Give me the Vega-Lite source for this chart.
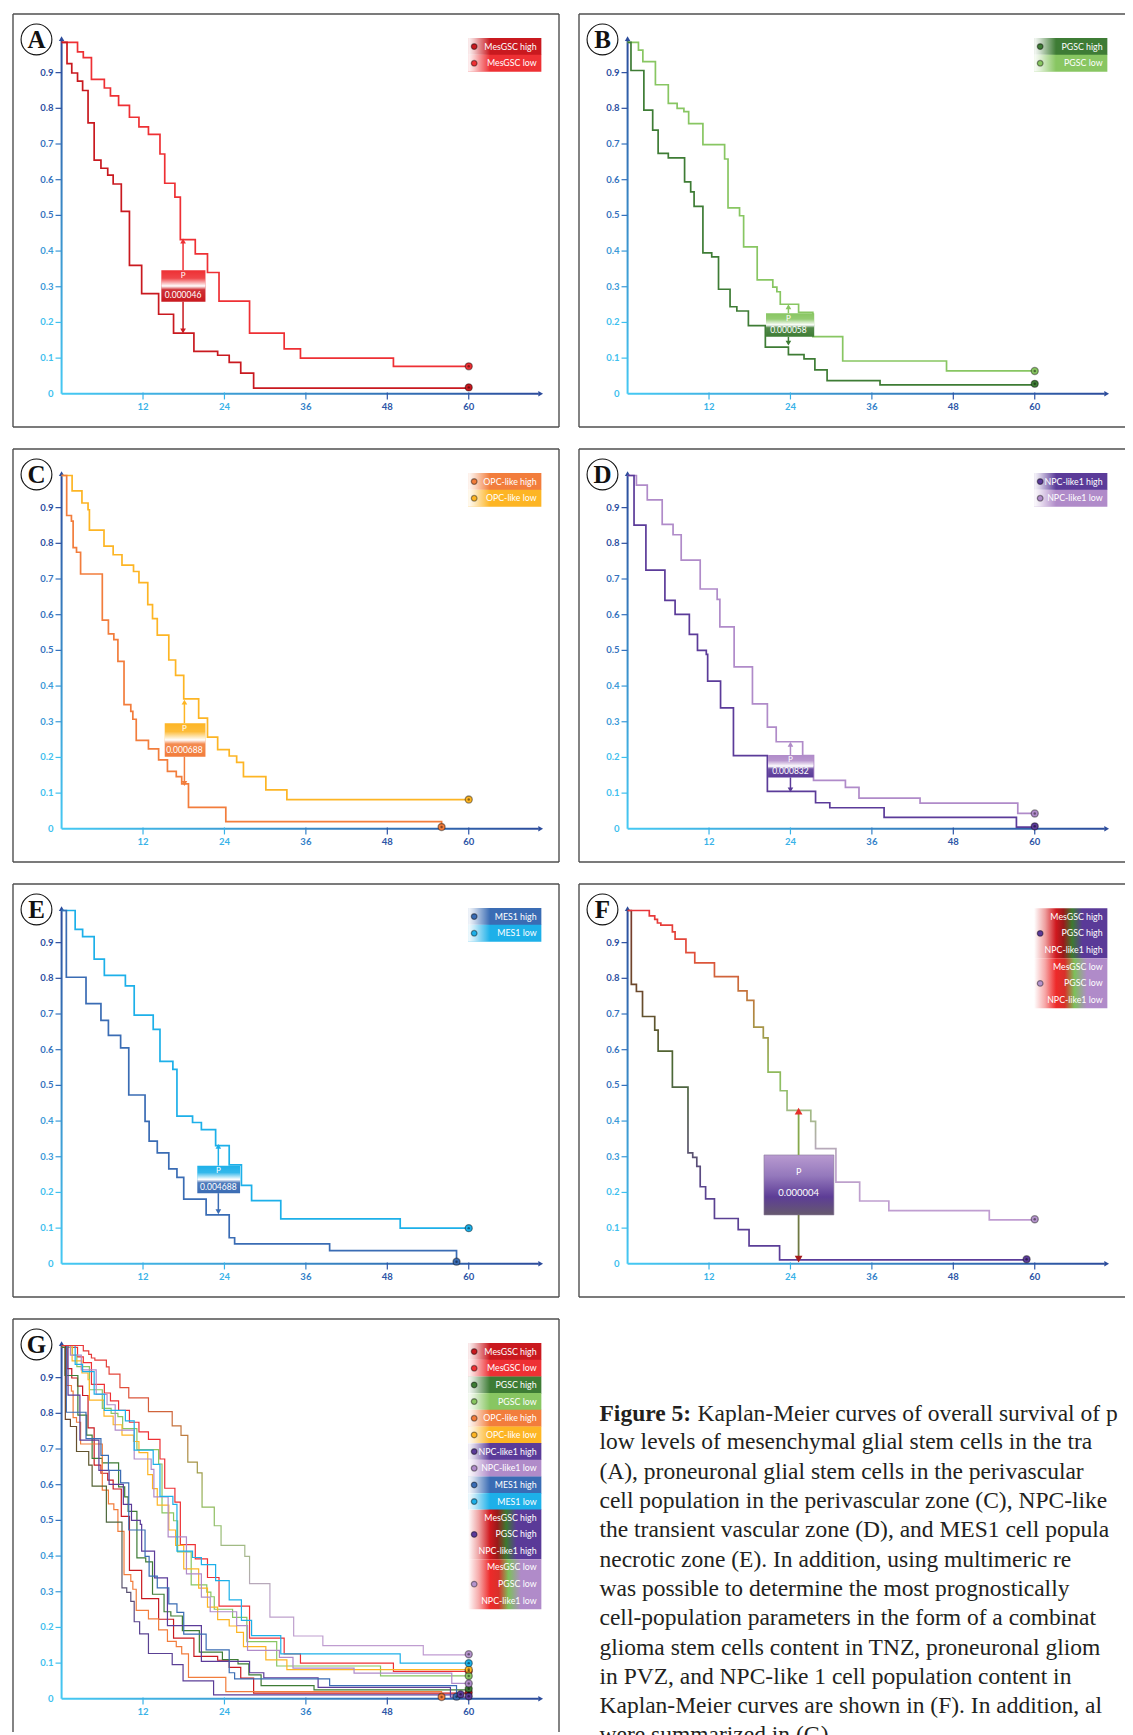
{
"$schema":"https://vega.github.io/schema/vega-lite/v6.json",
"padding":{"left":8,"top":8,"right":0,"bottom":0},
"background":"white",
"config":{"view":{"stroke":null},"axis":{"grid":false,"domain":false}},
"data":{"values":[
{"kind":"frame","panel":["A","B","C","D","E","F","G"]},
{"kind":"xtick","panel":["A","B","C","D","E","F","G"],"value":12},
{"kind":"xtick","panel":["A","B","C","D","E","F","G"],"value":24},
{"kind":"xtick","panel":["A","B","C","D","E","F","G"],"value":36},
{"kind":"xtick","panel":["A","B","C","D","E","F","G"],"value":48},
{"kind":"xtick","panel":["A","B","C","D","E","F","G"],"value":60},
{"kind":"ytick","panel":["A","B","C","D","E","F","G"],"value":0},
{"kind":"ytick","panel":["A","B","C","D","E","F","G"],"value":0.1},
{"kind":"ytick","panel":["A","B","C","D","E","F","G"],"value":0.2},
{"kind":"ytick","panel":["A","B","C","D","E","F","G"],"value":0.3},
{"kind":"ytick","panel":["A","B","C","D","E","F","G"],"value":0.4},
{"kind":"ytick","panel":["A","B","C","D","E","F","G"],"value":0.5},
{"kind":"ytick","panel":["A","B","C","D","E","F","G"],"value":0.6},
{"kind":"ytick","panel":["A","B","C","D","E","F","G"],"value":0.7},
{"kind":"ytick","panel":["A","B","C","D","E","F","G"],"value":0.8},
{"kind":"ytick","panel":["A","B","C","D","E","F","G"],"value":0.9},
{"kind":"blank","panel":["H"]},
{"kind":"cap","panel":["H"],"bold":"Figure 5:","first":"Kaplan-Meier curves of overall survival of p","rest":["low levels of mesenchymal glial stem cells in the tra","(A), proneuronal glial stem cells in the perivascular","cell population in the perivascular zone (C), NPC-like","the transient vascular zone (D), and MES1 cell popula","necrotic zone (E). In addition, using multimeric re","was possible to determine the most prognostically","cell-population parameters in the form of a combinat","glioma stem cells content in TNZ, proneuronal gliom","in PVZ, and NPC-like 1 cell population content in","Kaplan-Meier curves are shown in (F). In addition, al","were summarized in (G)."]},
{"kind":"km","panel":["A","G"],"series":"MesGSC low","month":[0,2.35,3.2,4.4,6.3,7.2,8.4,10.0,11.4,12.8,14.5,15.2,16.7,17.5,19.7,21.5,23.2,27.7,32.8,35.2,48.9,60],"survival":[0.985,0.958,0.942,0.881,0.857,0.835,0.808,0.775,0.748,0.727,0.672,0.590,0.551,0.432,0.392,0.340,0.260,0.170,0.126,0.100,0.077,0.077],"endMonth":60,"endSurvival":0.077},
{"kind":"km","panel":["A","G"],"series":"MesGSC high","month":[0,0.8,1.5,2.35,3.1,3.9,4.8,5.8,6.8,7.6,8.8,10.0,11.8,14.3,16.5,19.5,23.0,24.7,26.4,28.3,60],"survival":[0.985,0.925,0.899,0.876,0.850,0.759,0.655,0.632,0.613,0.588,0.511,0.360,0.281,0.223,0.170,0.119,0.108,0.088,0.058,0.016,0.016],"endMonth":60,"endSurvival":0.018},
{"kind":"km","panel":["B","G"],"series":"PGSC low","month":[0,1.6,2.25,4.1,6.0,7.3,8.3,9.0,11.1,14.3,14.8,16.5,17.1,19.1,21.4,22.0,22.5,25.2,27.3,31.7,47.0,60],"survival":[0.985,0.963,0.931,0.866,0.814,0.800,0.791,0.757,0.698,0.658,0.521,0.499,0.412,0.319,0.299,0.286,0.251,0.228,0.160,0.092,0.064,0.064],"endMonth":60,"endSurvival":0.064},
{"kind":"km","panel":["B","G"],"series":"PGSC high","month":[0,0.5,2.4,3.7,4.5,6.0,8.4,9.3,9.8,11.1,12.4,13.4,15.1,16.1,17.8,20.3,23.7,26.0,27.6,29.4,37.2,60],"survival":[0.985,0.906,0.795,0.739,0.674,0.661,0.594,0.566,0.525,0.395,0.384,0.293,0.244,0.232,0.191,0.131,0.110,0.098,0.067,0.037,0.025,0.025],"endMonth":60,"endSurvival":0.028},
{"kind":"km","panel":["C","G"],"series":"OPC-like low","month":[0,1.55,3.0,3.9,4.1,6.25,7.6,8.9,10.6,11.4,12.7,13.4,14.1,15.8,16.8,18.0,20.2,21.5,23.0,24.7,25.8,26.8,30.1,33.2,60],"survival":[0.99,0.947,0.913,0.894,0.837,0.792,0.768,0.739,0.721,0.690,0.628,0.589,0.543,0.473,0.430,0.364,0.310,0.257,0.222,0.204,0.186,0.146,0.109,0.082,0.082],"endMonth":60,"endSurvival":0.082},
{"kind":"km","panel":["C","G"],"series":"OPC-like high","month":[0,0.75,1.45,1.7,2.2,2.8,6.0,6.9,7.7,8.3,9.2,10.2,10.5,11.0,12.8,14.3,15.6,16.9,17.7,18.7,24.2,56.0],"survival":[0.99,0.878,0.862,0.788,0.775,0.714,0.585,0.546,0.530,0.469,0.348,0.329,0.307,0.248,0.224,0.193,0.161,0.146,0.126,0.060,0.020,0.005],"endMonth":56,"endSurvival":0.005},
{"kind":"km","panel":["D","G"],"series":"NPC-like1 low","month":[0,1.3,2.9,5.1,6.7,7.9,10.7,13.2,13.6,15.7,18.4,20.6,21.9,25.8,27.4,32.1,34.1,43.1,57.5,60],"survival":[0.99,0.963,0.922,0.853,0.824,0.753,0.672,0.643,0.566,0.454,0.350,0.285,0.244,0.205,0.136,0.116,0.086,0.072,0.043,0.043],"endMonth":60,"endSurvival":0.043},
{"kind":"km","panel":["D","G"],"series":"NPC-like1 high","month":[0,0.95,2.7,5.5,7.0,9.1,10.3,11.6,11.8,13.7,15.6,20.6,27.7,29.8,37.8,57.3,60],"survival":[0.99,0.851,0.725,0.640,0.601,0.545,0.500,0.489,0.414,0.339,0.205,0.105,0.073,0.059,0.032,0.005,0.005],"endMonth":60,"endSurvival":0.007},
{"kind":"km","panel":["E","G"],"series":"MES1 low","month":[0,2.0,3.1,4.8,6.3,9.4,10.7,13.5,14.5,16.4,17.0,19.3,20.6,22.7,24.7,26.5,28.0,32.3,49.9,60],"survival":[0.99,0.937,0.917,0.854,0.808,0.779,0.697,0.657,0.567,0.545,0.414,0.396,0.376,0.331,0.277,0.220,0.177,0.126,0.100,0.100],"endMonth":60,"endSurvival":0.100},
{"kind":"km","panel":["E","G"],"series":"MES1 high","month":[0,0.7,3.6,5.8,6.9,8.7,9.9,12.3,12.9,14.1,15.8,17.0,18.0,21.3,24.7,25.5,39.5,58.2],"survival":[0.99,0.803,0.729,0.682,0.640,0.605,0.473,0.399,0.344,0.311,0.266,0.242,0.181,0.137,0.073,0.056,0.037,0.006],"endMonth":58.2,"endSurvival":0.006},
{"kind":"km","panel":["F","G"],"series":"Combined low","month":[0,3.2,4.0,4.4,4.9,6.6,7.0,8.6,9.9,12.8,16.3,17.6,18.6,20.0,20.7,22.5,23.5,27.0,27.7,30.7,34.2,38.5,53.3,60],"survival":[0.99,0.975,0.965,0.955,0.949,0.930,0.910,0.872,0.843,0.805,0.765,0.738,0.663,0.633,0.537,0.485,0.430,0.399,0.323,0.229,0.176,0.149,0.123,0.123],"endMonth":60,"endSurvival":0.125},
{"kind":"km","panel":["F","G"],"series":"Combined high","month":[0,0.55,1.3,2.2,4.0,4.5,6.6,8.9,9.6,10.2,10.7,11.5,12.8,16.3,17.9,22.4,58.8],"survival":[0.99,0.783,0.763,0.693,0.655,0.596,0.495,0.311,0.298,0.273,0.216,0.182,0.127,0.096,0.050,0.011,0.011],"endMonth":58.8,"endSurvival":0.013},
{"kind":"p","panel":["A"],"upper":"MesGSC low","lower":"MesGSC high","left":14.7,"right":21.2,"lo":0.258,"mid":0.302,"hi":0.346,"month":17.9,"up":0.428,"down":0.176,"p":"0.000046"},
{"kind":"p","panel":["B"],"upper":"PGSC low","lower":"PGSC high","left":20.4,"right":27.5,"lo":0.160,"mid":0.193,"hi":0.226,"month":23.7,"up":0.244,"down":0.142,"p":"0.000058"},
{"kind":"p","panel":["C"],"upper":"OPC-like low","lower":"OPC-like high","left":15.2,"right":21.2,"lo":0.202,"mid":0.249,"hi":0.296,"month":18.1,"up":0.355,"down":0.127,"p":"0.000688"},
{"kind":"p","panel":["D"],"upper":"NPC-like1 low","lower":"NPC-like1 high","left":20.7,"right":27.4,"lo":0.144,"mid":0.175,"hi":0.207,"month":24.0,"up":0.237,"down":0.109,"p":"0.000832"},
{"kind":"p","panel":["E"],"upper":"MES1 low","lower":"MES1 high","left":20.0,"right":26.3,"lo":0.198,"mid":0.236,"hi":0.275,"month":23.1,"up":0.329,"down":0.146,"p":"0.004688"},
{"kind":"p","panel":["F"],"upper":"Combined low","lower":"Combined high","left":20.1,"right":30.4,"lo":0.137,"mid":0.221,"hi":0.305,"month":25.2,"up":0.428,"down":0.013,"p":"0.000004"},
{"kind":"leg","panel":["A","G"],"series":"MesGSC high","label":"MesGSC high","ly":0.973},
{"kind":"leg","panel":["A","G"],"series":"MesGSC low","label":"MesGSC low","ly":0.9263},
{"kind":"leg","panel":["B"],"series":"PGSC high","label":"PGSC high","ly":0.973},
{"kind":"leg","panel":["B"],"series":"PGSC low","label":"PGSC low","ly":0.9263},
{"kind":"leg","panel":["C"],"series":"OPC-like high","label":"OPC-like high","ly":0.973},
{"kind":"leg","panel":["C"],"series":"OPC-like low","label":"OPC-like low","ly":0.9263},
{"kind":"leg","panel":["D"],"series":"NPC-like1 high","label":"NPC-like1 high","ly":0.973},
{"kind":"leg","panel":["D"],"series":"NPC-like1 low","label":"NPC-like1 low","ly":0.9263},
{"kind":"leg","panel":["E"],"series":"MES1 high","label":"MES1 high","ly":0.973},
{"kind":"leg","panel":["E"],"series":"MES1 low","label":"MES1 low","ly":0.9263},
{"kind":"leg","panel":["G"],"series":"PGSC high","label":"PGSC high","ly":0.8796},
{"kind":"leg","panel":["G"],"series":"PGSC low","label":"PGSC low","ly":0.8329},
{"kind":"leg","panel":["G"],"series":"OPC-like high","label":"OPC-like high","ly":0.7862},
{"kind":"leg","panel":["G"],"series":"OPC-like low","label":"OPC-like low","ly":0.7395},
{"kind":"leg","panel":["G"],"series":"NPC-like1 high","label":"NPC-like1 high","ly":0.6928},
{"kind":"leg","panel":["G"],"series":"NPC-like1 low","label":"NPC-like1 low","ly":0.6461},
{"kind":"leg","panel":["G"],"series":"MES1 high","label":"MES1 high","ly":0.5994},
{"kind":"leg","panel":["G"],"series":"MES1 low","label":"MES1 low","ly":0.5527},
{"kind":"leg","panel":["F"],"series":"Combined high","label":"MesGSC high","ly":0.9726},
{"kind":"leg","panel":["F"],"series":"Combined high","label":"PGSC high","ly":0.9259},
{"kind":"leg","panel":["F"],"series":"Combined high","label":"NPC-like1 high","ly":0.8792},
{"kind":"leg","panel":["F"],"series":"Combined low","label":"MesGSC low","ly":0.8325},
{"kind":"leg","panel":["F"],"series":"Combined low","label":"PGSC low","ly":0.7858},
{"kind":"leg","panel":["F"],"series":"Combined low","label":"NPC-like1 low","ly":0.7391},
{"kind":"leg","panel":["G"],"series":"Combined high","label":"MesGSC high","ly":0.5074},
{"kind":"leg","panel":["G"],"series":"Combined high","label":"PGSC high","ly":0.4607},
{"kind":"leg","panel":["G"],"series":"Combined high","label":"NPC-like1 high","ly":0.414},
{"kind":"leg","panel":["G"],"series":"Combined low","label":"MesGSC low","ly":0.3681},
{"kind":"leg","panel":["G"],"series":"Combined low","label":"PGSC low","ly":0.3214},
{"kind":"leg","panel":["G"],"series":"Combined low","label":"NPC-like1 low","ly":0.2747},
{"kind":"block","panel":["F"],"series":"Combined high","top":0.996,"bottom":0.8559},
{"kind":"block","panel":["F"],"series":"Combined low","top":0.8559,"bottom":0.7158},
{"kind":"block","panel":["G"],"series":"Combined high","top":0.5307,"bottom":0.3914},
{"kind":"block","panel":["G"],"series":"Combined low","top":0.3914,"bottom":0.2511}
]},
"transform":[{"flatten":["panel"]}],
"facet":{"field":"panel","type":"nominal","title":null,"header":{"labels":false,"labelFontSize":1,"labelColor":"transparent","labelPadding":0,"titlePadding":0}},
"columns":2,
"spacing":{"row":11,"column":10},
"resolve":{"axis":{"x":"independent","y":"independent"}},
"spec":{"width":556,"height":423,"layer":[
{"transform":[{"filter":"datum.kind == 'blank'"}],"mark":{"type":"rect","fill":"white"},"encoding":{"x":{"datum":-7.16,"type":"quantitative","scale":{"domain":[-7.16,73.3],"nice":false,"zero":false},"axis":null},"x2":{"datum":73.3},"y":{"datum":-0.093,"type":"quantitative","scale":{"domain":[-0.093,1.0643],"nice":false,"zero":false},"axis":null},"y2":{"datum":1.0643}}},
{"transform":[{"filter":"datum.kind == 'frame'"}],"mark":{"type":"rule","color":"#4f4f4f","strokeWidth":1.4},"encoding":{"x":{"datum":-7.16,"type":"quantitative","scale":{"domain":[-7.16,73.3],"nice":false,"zero":false},"axis":null},"x2":{"datum":73.3},"y":{"datum":1.0643,"type":"quantitative","scale":{"domain":[-0.093,1.0643],"nice":false,"zero":false},"axis":null}}},
{"transform":[{"filter":"datum.kind == 'frame' && datum.panel != 'G'"}],"mark":{"type":"rule","color":"#4f4f4f","strokeWidth":1.4},"encoding":{"x":{"datum":-7.16,"type":"quantitative","scale":{"domain":[-7.16,73.3],"nice":false,"zero":false},"axis":null},"x2":{"datum":73.3},"y":{"datum":-0.093,"type":"quantitative","scale":{"domain":[-0.093,1.0643],"nice":false,"zero":false},"axis":null}}},
{"transform":[{"filter":"datum.kind == 'frame'"}],"mark":{"type":"rule","color":"#4f4f4f","strokeWidth":1.4},"encoding":{"x":{"datum":-7.16,"type":"quantitative","scale":{"domain":[-7.16,73.3],"nice":false,"zero":false},"axis":null},"y":{"datum":-0.093,"type":"quantitative","scale":{"domain":[-0.093,1.0643],"nice":false,"zero":false},"axis":null},"y2":{"datum":1.0643}}},
{"transform":[{"filter":"datum.kind == 'frame' && indexof('ACEG', datum.panel) >= 0"}],"mark":{"type":"rule","color":"#4f4f4f","strokeWidth":1.4},"encoding":{"x":{"datum":73.3,"type":"quantitative","scale":{"domain":[-7.16,73.3],"nice":false,"zero":false},"axis":null},"y":{"datum":-0.093,"type":"quantitative","scale":{"domain":[-0.093,1.0643],"nice":false,"zero":false},"axis":null},"y2":{"datum":1.0643}}},
{"transform":[{"filter":"datum.kind == 'frame'"}],"mark":{"type":"bar","orient":"horizontal","size":2,"fill":{"gradient":"linear","x1":0,"y1":0,"x2":1,"y2":0,"stops":[{"offset":0,"color":"#45c9f3"},{"offset":1,"color":"#2c4c9c"}]}},"encoding":{"x":{"datum":0,"type":"quantitative","scale":{"domain":[-7.16,73.3],"nice":false,"zero":false},"axis":null},"x2":{"datum":70.3},"y":{"datum":0,"type":"quantitative","scale":{"domain":[-0.093,1.0643],"nice":false,"zero":false},"axis":null}}},
{"transform":[{"filter":"datum.kind == 'frame'"}],"mark":{"type":"bar","orient":"vertical","size":2,"fill":{"gradient":"linear","x1":0,"y1":0,"x2":0,"y2":1,"stops":[{"offset":0,"color":"#2c4c9c"},{"offset":1,"color":"#45c9f3"}]}},"encoding":{"x":{"datum":0,"type":"quantitative","scale":{"domain":[-7.16,73.3],"nice":false,"zero":false},"axis":null},"y":{"datum":0,"type":"quantitative","scale":{"domain":[-0.093,1.0643],"nice":false,"zero":false},"axis":null},"y2":{"datum":0.99}}},
{"transform":[{"filter":"datum.kind == 'frame'"}],"mark":{"type":"point","shape":"triangle-right","size":30,"filled":true,"fill":"#2c4c9c","opacity":1},"encoding":{"x":{"datum":70.6,"type":"quantitative","scale":{"domain":[-7.16,73.3],"nice":false,"zero":false},"axis":null},"y":{"datum":0,"type":"quantitative","scale":{"domain":[-0.093,1.0643],"nice":false,"zero":false},"axis":null}}},
{"transform":[{"filter":"datum.kind == 'frame'"}],"mark":{"type":"point","shape":"triangle-up","size":30,"filled":true,"fill":"#2c4c9c","opacity":1},"encoding":{"x":{"datum":0,"type":"quantitative","scale":{"domain":[-7.16,73.3],"nice":false,"zero":false},"axis":null},"y":{"datum":0.995,"type":"quantitative","scale":{"domain":[-0.093,1.0643],"nice":false,"zero":false},"axis":null}}},
{"transform":[{"filter":"datum.kind == 'xtick'"}],"mark":{"type":"point","shape":"M0,-1L0,1","filled":false,"size":49,"strokeWidth":1.2,"opacity":1},"encoding":{"x":{"field":"value","type":"quantitative","scale":{"domain":[-7.16,73.3],"nice":false,"zero":false},"axis":null},"y":{"datum":-0.006,"type":"quantitative","scale":{"domain":[-0.093,1.0643],"nice":false,"zero":false},"axis":null},"color":{"condition":[{"test":"datum.value >= 48","value":"#2d55a6"},{"test":"datum.value >= 36","value":"#3480c8"}],"value":"#38b2e8"}}},
{"transform":[{"filter":"datum.kind == 'xtick'"}],"mark":{"type":"text","baseline":"top","dy":8,"fontSize":9.5,"font":"Lato","fontWeight":"bold"},"encoding":{"x":{"field":"value","type":"quantitative","scale":{"domain":[-7.16,73.3],"nice":false,"zero":false},"axis":null},"y":{"datum":0,"type":"quantitative","scale":{"domain":[-0.093,1.0643],"nice":false,"zero":false},"axis":null},"text":{"field":"value","type":"quantitative"},"color":{"condition":[{"test":"datum.value >= 48","value":"#2d55a6"},{"test":"datum.value >= 36","value":"#3480c8"}],"value":"#38b2e8"}}},
{"transform":[{"filter":"datum.kind == 'ytick' && datum.value > 0"}],"mark":{"type":"point","shape":"M-1,0L1,0","filled":false,"size":36,"strokeWidth":1.2,"opacity":1},"encoding":{"x":{"datum":-0.45,"type":"quantitative","scale":{"domain":[-7.16,73.3],"nice":false,"zero":false},"axis":null},"y":{"field":"value","type":"quantitative","scale":{"domain":[-0.093,1.0643],"nice":false,"zero":false},"axis":null},"color":{"condition":[{"test":"datum.value >= 0.75","value":"#2d4f9f"},{"test":"datum.value >= 0.5","value":"#3572bd"},{"test":"datum.value >= 0.3","value":"#3a9ad8"}],"value":"#3ec0ee"}}},
{"transform":[{"filter":"datum.kind == 'ytick'"}],"mark":{"type":"text","align":"right","baseline":"middle","dx":-8,"fontSize":9.5,"font":"Lato","fontWeight":"bold"},"encoding":{"x":{"datum":0,"type":"quantitative","scale":{"domain":[-7.16,73.3],"nice":false,"zero":false},"axis":null},"y":{"field":"value","type":"quantitative","scale":{"domain":[-0.093,1.0643],"nice":false,"zero":false},"axis":null},"text":{"field":"value","type":"quantitative","format":".1~f"},"color":{"condition":[{"test":"datum.value >= 0.75","value":"#2d4f9f"},{"test":"datum.value >= 0.5","value":"#3572bd"},{"test":"datum.value >= 0.3","value":"#3a9ad8"}],"value":"#3ec0ee"}}},
{"transform":[{"filter":"datum.kind == 'km' && datum.series != 'Combined high' && datum.series != 'Combined low'"},{"flatten":["month","survival"]}],"mark":{"type":"line","interpolate":"step-after"},"encoding":{
"x":{"field":"month","type":"quantitative","scale":{"domain":[-7.16,73.3],"nice":false,"zero":false},"axis":{"values":[12,24,36,48,60],"offset":-34,"domain":false,"grid":false,"ticks":false,"labels":false,"title":null}},
"y":{"field":"survival","type":"quantitative","scale":{"domain":[-0.093,1.0643],"nice":false,"zero":false},"axis":{"values":[0.5],"offset":-49.5,"domain":false,"grid":false,"ticks":false,"labels":false,"title":null}},
"color":{"field":"series","type":"nominal","scale":{"domain":["MesGSC high","MesGSC low","PGSC high","PGSC low","OPC-like high","OPC-like low","NPC-like1 high","NPC-like1 low","MES1 high","MES1 low","Combined high","Combined low"],"range":["#c9191f","#ee3034","#3e7c35","#88c662","#f27d3c","#fdb524","#5b3b99","#b08bc9","#3a6cb4","#1db0e9","#5b3b99","#b594cc"]},"legend":null},
"strokeWidth":{"condition":{"test":"datum.panel == 'G'","value":1.2},"value":1.7}}},
{"transform":[{"filter":"datum.kind == 'km' && datum.series == 'Combined high'"},{"flatten":["month","survival"]}],"mark":{"type":"line","interpolate":"step-after","stroke":{"gradient":"linear","x1":0,"y1":0,"x2":0,"y2":1,"stops":[{"offset":0,"color":"#7a3a2c"},{"offset":0.25,"color":"#6a4a2c"},{"offset":0.45,"color":"#4a6a34"},{"offset":0.65,"color":"#5a5a62"},{"offset":0.8,"color":"#5a4490"},{"offset":1,"color":"#5b3c99"}]}},"encoding":{"x":{"field":"month","type":"quantitative","scale":{"domain":[-7.16,73.3],"nice":false,"zero":false},"axis":null},"y":{"field":"survival","type":"quantitative","scale":{"domain":[-0.093,1.0643],"nice":false,"zero":false},"axis":null},"strokeWidth":{"condition":{"test":"datum.panel == 'G'","value":1.2},"value":1.7}}},
{"transform":[{"filter":"datum.kind == 'km' && datum.series == 'Combined low'"},{"flatten":["month","survival"]}],"mark":{"type":"line","interpolate":"step-after","stroke":{"gradient":"linear","x1":0,"y1":0,"x2":0,"y2":1,"stops":[{"offset":0,"color":"#e8353a"},{"offset":0.15,"color":"#e0503a"},{"offset":0.28,"color":"#c0783c"},{"offset":0.4,"color":"#a09a48"},{"offset":0.55,"color":"#8cc060"},{"offset":0.68,"color":"#a8b890"},{"offset":0.8,"color":"#bca4c8"},{"offset":1,"color":"#c09cd2"}]}},"encoding":{"x":{"field":"month","type":"quantitative","scale":{"domain":[-7.16,73.3],"nice":false,"zero":false},"axis":null},"y":{"field":"survival","type":"quantitative","scale":{"domain":[-0.093,1.0643],"nice":false,"zero":false},"axis":null},"strokeWidth":{"condition":{"test":"datum.panel == 'G'","value":1.2},"value":1.7}}},
{"transform":[{"filter":"datum.kind == 'km'"}],"mark":{"type":"point","shape":"circle","filled":true,"size":50,"stroke":"rgba(0,0,0,0.4)","strokeWidth":1.3,"opacity":1},"encoding":{"x":{"field":"endMonth","type":"quantitative","scale":{"domain":[-7.16,73.3],"nice":false,"zero":false},"axis":null},"y":{"field":"endSurvival","type":"quantitative","scale":{"domain":[-0.093,1.0643],"nice":false,"zero":false},"axis":null},
"color":{"field":"series","type":"nominal","scale":{"domain":["MesGSC high","MesGSC low","PGSC high","PGSC low","OPC-like high","OPC-like low","NPC-like1 high","NPC-like1 low","MES1 high","MES1 low","Combined high","Combined low"],"range":["#c9191f","#ee3034","#3e7c35","#88c662","#f27d3c","#fdb524","#5b3b99","#b08bc9","#3a6cb4","#1db0e9","#5b3b99","#b594cc"]},"legend":null}}},
{"transform":[{"filter":"datum.kind == 'km'"}],"mark":{"type":"point","shape":"circle","filled":true,"size":6,"color":"rgba(0,0,0,0.45)","opacity":1},"encoding":{"x":{"field":"endMonth","type":"quantitative","scale":{"domain":[-7.16,73.3],"nice":false,"zero":false},"axis":null},"y":{"field":"endSurvival","type":"quantitative","scale":{"domain":[-0.093,1.0643],"nice":false,"zero":false},"axis":null}}},
{"transform":[{"filter":"datum.kind == 'p' && datum.panel != 'F'"}],"mark":{"type":"rect"},"encoding":{"x":{"field":"left","type":"quantitative","scale":{"domain":[-7.16,73.3],"nice":false,"zero":false},"axis":null},"x2":{"field":"right"},"y":{"field":"mid","type":"quantitative","scale":{"domain":[-0.093,1.0643],"nice":false,"zero":false},"axis":null},"y2":{"field":"hi"},
"color":{"field":"upper","type":"nominal","scale":{"domain":["MesGSC high","MesGSC low","PGSC high","PGSC low","OPC-like high","OPC-like low","NPC-like1 high","NPC-like1 low","MES1 high","MES1 low","Combined high","Combined low"],"range":["#c9191f","#ee3034","#3e7c35","#88c662","#f27d3c","#fdb524","#5b3b99","#b08bc9","#3a6cb4","#1db0e9","#5b3b99","#b594cc"]},"legend":null}}},
{"transform":[{"filter":"datum.kind == 'p' && datum.panel != 'F'"}],"mark":{"type":"rect"},"encoding":{"x":{"field":"left","type":"quantitative","scale":{"domain":[-7.16,73.3],"nice":false,"zero":false},"axis":null},"x2":{"field":"right"},"y":{"field":"lo","type":"quantitative","scale":{"domain":[-0.093,1.0643],"nice":false,"zero":false},"axis":null},"y2":{"field":"mid"},
"color":{"field":"lower","type":"nominal","scale":{"domain":["MesGSC high","MesGSC low","PGSC high","PGSC low","OPC-like high","OPC-like low","NPC-like1 high","NPC-like1 low","MES1 high","MES1 low","Combined high","Combined low"],"range":["#c9191f","#ee3034","#3e7c35","#88c662","#f27d3c","#fdb524","#5b3b99","#b08bc9","#3a6cb4","#1db0e9","#5b3b99","#b594cc"]},"legend":null}}},
{"transform":[{"filter":"datum.kind == 'p' && datum.panel != 'F'"}],"mark":{"type":"rect","fill":{"gradient":"linear","x1":0,"y1":0,"x2":0,"y2":1,"stops":[{"offset":0,"color":"rgba(255,255,255,0)"},{"offset":0.25,"color":"rgba(255,255,255,0.1)"},{"offset":0.5,"color":"rgba(255,255,255,1)"},{"offset":0.62,"color":"rgba(255,255,255,0.1)"},{"offset":1,"color":"rgba(255,255,255,0)"}]}},"encoding":{"x":{"field":"left","type":"quantitative","scale":{"domain":[-7.16,73.3],"nice":false,"zero":false},"axis":null},"x2":{"field":"right"},"y":{"field":"lo","type":"quantitative","scale":{"domain":[-0.093,1.0643],"nice":false,"zero":false},"axis":null},"y2":{"field":"hi"}}},
{"transform":[{"filter":"datum.kind == 'p' && datum.panel == 'F'"}],"mark":{"type":"rect","stroke":"#8a7a9a","strokeWidth":0.6,"fill":{"gradient":"linear","x1":0,"y1":0,"x2":0,"y2":1,"stops":[{"offset":0,"color":"#b89ad0"},{"offset":0.35,"color":"#9478bc"},{"offset":0.7,"color":"#5d3d96"},{"offset":1,"color":"#66596e"}]}},"encoding":{"x":{"field":"left","type":"quantitative","scale":{"domain":[-7.16,73.3],"nice":false,"zero":false},"axis":null},"x2":{"field":"right"},"y":{"field":"lo","type":"quantitative","scale":{"domain":[-0.093,1.0643],"nice":false,"zero":false},"axis":null},"y2":{"field":"hi"}}},
{"transform":[{"filter":"datum.kind == 'p' && datum.panel != 'F'"}],"mark":{"type":"rule","strokeWidth":1.5},"encoding":{"x":{"field":"month","type":"quantitative","scale":{"domain":[-7.16,73.3],"nice":false,"zero":false},"axis":null},"y":{"field":"hi","type":"quantitative","scale":{"domain":[-0.093,1.0643],"nice":false,"zero":false},"axis":null},"y2":{"field":"up"},
"color":{"field":"upper","type":"nominal","scale":{"domain":["MesGSC high","MesGSC low","PGSC high","PGSC low","OPC-like high","OPC-like low","NPC-like1 high","NPC-like1 low","MES1 high","MES1 low","Combined high","Combined low"],"range":["#c9191f","#ee3034","#3e7c35","#88c662","#f27d3c","#fdb524","#5b3b99","#b08bc9","#3a6cb4","#1db0e9","#5b3b99","#b594cc"]},"legend":null}}},
{"transform":[{"filter":"datum.kind == 'p' && datum.panel != 'F'"}],"mark":{"type":"rule","strokeWidth":1.5},"encoding":{"x":{"field":"month","type":"quantitative","scale":{"domain":[-7.16,73.3],"nice":false,"zero":false},"axis":null},"y":{"field":"lo","type":"quantitative","scale":{"domain":[-0.093,1.0643],"nice":false,"zero":false},"axis":null},"y2":{"field":"down"},
"color":{"field":"lower","type":"nominal","scale":{"domain":["MesGSC high","MesGSC low","PGSC high","PGSC low","OPC-like high","OPC-like low","NPC-like1 high","NPC-like1 low","MES1 high","MES1 low","Combined high","Combined low"],"range":["#c9191f","#ee3034","#3e7c35","#88c662","#f27d3c","#fdb524","#5b3b99","#b08bc9","#3a6cb4","#1db0e9","#5b3b99","#b594cc"]},"legend":null}}},
{"transform":[{"filter":"datum.kind == 'p' && datum.panel != 'F'"}],"mark":{"type":"point","shape":"triangle-up","size":32,"filled":true,"opacity":1},"encoding":{"x":{"field":"month","type":"quantitative","scale":{"domain":[-7.16,73.3],"nice":false,"zero":false},"axis":null},"y":{"field":"up","type":"quantitative","scale":{"domain":[-0.093,1.0643],"nice":false,"zero":false},"axis":null},
"color":{"field":"upper","type":"nominal","scale":{"domain":["MesGSC high","MesGSC low","PGSC high","PGSC low","OPC-like high","OPC-like low","NPC-like1 high","NPC-like1 low","MES1 high","MES1 low","Combined high","Combined low"],"range":["#c9191f","#ee3034","#3e7c35","#88c662","#f27d3c","#fdb524","#5b3b99","#b08bc9","#3a6cb4","#1db0e9","#5b3b99","#b594cc"]},"legend":null}}},
{"transform":[{"filter":"datum.kind == 'p' && datum.panel != 'F'"}],"mark":{"type":"point","shape":"triangle-down","size":32,"filled":true,"opacity":1},"encoding":{"x":{"field":"month","type":"quantitative","scale":{"domain":[-7.16,73.3],"nice":false,"zero":false},"axis":null},"y":{"field":"down","type":"quantitative","scale":{"domain":[-0.093,1.0643],"nice":false,"zero":false},"axis":null},
"color":{"field":"lower","type":"nominal","scale":{"domain":["MesGSC high","MesGSC low","PGSC high","PGSC low","OPC-like high","OPC-like low","NPC-like1 high","NPC-like1 low","MES1 high","MES1 low","Combined high","Combined low"],"range":["#c9191f","#ee3034","#3e7c35","#88c662","#f27d3c","#fdb524","#5b3b99","#b08bc9","#3a6cb4","#1db0e9","#5b3b99","#b594cc"]},"legend":null}}},
{"transform":[{"filter":"datum.kind == 'p' && datum.panel == 'F'"}],"mark":{"type":"rule","strokeWidth":1.8,"color":"#86a84c"},"encoding":{"x":{"field":"month","type":"quantitative","scale":{"domain":[-7.16,73.3],"nice":false,"zero":false},"axis":null},"y":{"field":"hi","type":"quantitative","scale":{"domain":[-0.093,1.0643],"nice":false,"zero":false},"axis":null},"y2":{"field":"up"}}},
{"transform":[{"filter":"datum.kind == 'p' && datum.panel == 'F'"}],"mark":{"type":"rule","strokeWidth":1.8,"color":"#6f7842"},"encoding":{"x":{"field":"month","type":"quantitative","scale":{"domain":[-7.16,73.3],"nice":false,"zero":false},"axis":null},"y":{"field":"lo","type":"quantitative","scale":{"domain":[-0.093,1.0643],"nice":false,"zero":false},"axis":null},"y2":{"field":"down"}}},
{"transform":[{"filter":"datum.kind == 'p' && datum.panel == 'F'"}],"mark":{"type":"point","shape":"triangle-up","size":60,"filled":true,"color":"#e5312b","opacity":1},"encoding":{"x":{"field":"month","type":"quantitative","scale":{"domain":[-7.16,73.3],"nice":false,"zero":false},"axis":null},"y":{"field":"up","type":"quantitative","scale":{"domain":[-0.093,1.0643],"nice":false,"zero":false},"axis":null}}},
{"transform":[{"filter":"datum.kind == 'p' && datum.panel == 'F'"}],"mark":{"type":"point","shape":"triangle-down","size":60,"filled":true,"color":"#a51d1d","opacity":1},"encoding":{"x":{"field":"month","type":"quantitative","scale":{"domain":[-7.16,73.3],"nice":false,"zero":false},"axis":null},"y":{"field":"down","type":"quantitative","scale":{"domain":[-0.093,1.0643],"nice":false,"zero":false},"axis":null}}},
{"transform":[{"filter":"datum.kind == 'p' && datum.panel != 'F'"}],"mark":{"type":"text","baseline":"top","dy":1.5,"fontSize":8,"font":"Lato","color":"#ffffff"},"encoding":{"x":{"field":"month","type":"quantitative","scale":{"domain":[-7.16,73.3],"nice":false,"zero":false},"axis":null},"y":{"field":"hi","type":"quantitative","scale":{"domain":[-0.093,1.0643],"nice":false,"zero":false},"axis":null},"text":{"value":"P"}}},
{"transform":[{"filter":"datum.kind == 'p' && datum.panel != 'F'"}],"mark":{"type":"text","baseline":"bottom","dy":-1.5,"fontSize":8.5,"font":"Lato","color":"#ffffff"},"encoding":{"x":{"field":"month","type":"quantitative","scale":{"domain":[-7.16,73.3],"nice":false,"zero":false},"axis":null},"y":{"field":"lo","type":"quantitative","scale":{"domain":[-0.093,1.0643],"nice":false,"zero":false},"axis":null},"text":{"field":"p"}}},
{"transform":[{"filter":"datum.kind == 'p' && datum.panel == 'F'"}],"mark":{"type":"text","baseline":"middle","dy":17,"fontSize":9,"font":"Lato","color":"#ffffff"},"encoding":{"x":{"field":"month","type":"quantitative","scale":{"domain":[-7.16,73.3],"nice":false,"zero":false},"axis":null},"y":{"field":"hi","type":"quantitative","scale":{"domain":[-0.093,1.0643],"nice":false,"zero":false},"axis":null},"text":{"value":"P"}}},
{"transform":[{"filter":"datum.kind == 'p' && datum.panel == 'F'"}],"mark":{"type":"text","baseline":"middle","dy":-22,"fontSize":9.5,"font":"Lato","color":"#ffffff"},"encoding":{"x":{"field":"month","type":"quantitative","scale":{"domain":[-7.16,73.3],"nice":false,"zero":false},"axis":null},"y":{"field":"lo","type":"quantitative","scale":{"domain":[-0.093,1.0643],"nice":false,"zero":false},"axis":null},"text":{"field":"p"}}},
{"transform":[{"filter":"datum.kind == 'leg' && datum.series != 'Combined high' && datum.series != 'Combined low'"}],"mark":{"type":"bar","orient":"horizontal","size":17},"encoding":{"x":{"datum":59.9,"type":"quantitative","scale":{"domain":[-7.16,73.3],"nice":false,"zero":false},"axis":null},"x2":{"datum":70.7},"y":{"field":"ly","type":"quantitative","scale":{"domain":[-0.093,1.0643],"nice":false,"zero":false},"axis":null},
"color":{"field":"series","type":"nominal","scale":{"domain":["MesGSC high","MesGSC low","PGSC high","PGSC low","OPC-like high","OPC-like low","NPC-like1 high","NPC-like1 low","MES1 high","MES1 low","Combined high","Combined low"],"range":["#c9191f","#ee3034","#3e7c35","#88c662","#f27d3c","#fdb524","#5b3b99","#b08bc9","#3a6cb4","#1db0e9","#5b3b99","#b594cc"]},"legend":null}}},
{"transform":[{"filter":"datum.kind == 'block' && datum.series == 'Combined high'"}],"mark":{"type":"rect","fill":{"gradient":"linear","x1":0,"y1":0,"x2":1,"y2":0,"stops":[{"offset":0,"color":"#ffffff"},{"offset":0.15,"color":"#eea0a0"},{"offset":0.3,"color":"#d0181e"},{"offset":0.4,"color":"#9a1a1a"},{"offset":0.52,"color":"#3c7a30"},{"offset":0.66,"color":"#5a3a98"},{"offset":1,"color":"#5a3a98"}]}},"encoding":{"x":{"datum":59.9,"type":"quantitative","scale":{"domain":[-7.16,73.3],"nice":false,"zero":false},"axis":null},"x2":{"datum":70.7},"y":{"field":"bottom","type":"quantitative","scale":{"domain":[-0.093,1.0643],"nice":false,"zero":false},"axis":null},"y2":{"field":"top"}}},
{"transform":[{"filter":"datum.kind == 'block' && datum.series == 'Combined low'"}],"mark":{"type":"rect","fill":{"gradient":"linear","x1":0,"y1":0,"x2":1,"y2":0,"stops":[{"offset":0,"color":"#ffffff"},{"offset":0.15,"color":"#f6a8a8"},{"offset":0.3,"color":"#ee2a2a"},{"offset":0.42,"color":"#d8302a"},{"offset":0.55,"color":"#7cc05a"},{"offset":0.72,"color":"#b08bc9"},{"offset":1,"color":"#b08bc9"}]}},"encoding":{"x":{"datum":59.9,"type":"quantitative","scale":{"domain":[-7.16,73.3],"nice":false,"zero":false},"axis":null},"x2":{"datum":70.7},"y":{"field":"bottom","type":"quantitative","scale":{"domain":[-0.093,1.0643],"nice":false,"zero":false},"axis":null},"y2":{"field":"top"}}},
{"transform":[{"filter":"datum.kind == 'leg' && datum.series != 'Combined high' && datum.series != 'Combined low'"}],"mark":{"type":"bar","orient":"horizontal","size":17,"fill":{"gradient":"linear","x1":0,"y1":0,"x2":1,"y2":0,"stops":[{"offset":0,"color":"rgba(255,255,255,0.97)"},{"offset":0.08,"color":"rgba(255,255,255,0.75)"},{"offset":0.3,"color":"rgba(255,255,255,0)"},{"offset":1,"color":"rgba(255,255,255,0)"}]}},"encoding":{"x":{"datum":59.9,"type":"quantitative","scale":{"domain":[-7.16,73.3],"nice":false,"zero":false},"axis":null},"x2":{"datum":70.7},"y":{"field":"ly","type":"quantitative","scale":{"domain":[-0.093,1.0643],"nice":false,"zero":false},"axis":null}}},
{"transform":[{"filter":"datum.kind == 'leg' && (indexof(datum.series, 'Combined') < 0 || indexof(datum.label, 'PGSC') == 0)"}],"mark":{"type":"point","shape":"circle","filled":true,"size":32,"stroke":"rgba(0,0,0,0.4)","strokeWidth":1.3,"opacity":1},"encoding":{"x":{"datum":60.8,"type":"quantitative","scale":{"domain":[-7.16,73.3],"nice":false,"zero":false},"axis":null},"y":{"field":"ly","type":"quantitative","scale":{"domain":[-0.093,1.0643],"nice":false,"zero":false},"axis":null},
"color":{"field":"series","type":"nominal","scale":{"domain":["MesGSC high","MesGSC low","PGSC high","PGSC low","OPC-like high","OPC-like low","NPC-like1 high","NPC-like1 low","MES1 high","MES1 low","Combined high","Combined low"],"range":["#c9191f","#ee3034","#3e7c35","#88c662","#f27d3c","#fdb524","#5b3b99","#b08bc9","#3a6cb4","#1db0e9","#5b3b99","#b594cc"]},"legend":null}}},
{"transform":[{"filter":"datum.kind == 'leg'"}],"mark":{"type":"text","align":"right","baseline":"middle","fontSize":8.8,"font":"Lato","color":"#ffffff"},"encoding":{"x":{"datum":70.0,"type":"quantitative","scale":{"domain":[-7.16,73.3],"nice":false,"zero":false},"axis":null},"y":{"field":"ly","type":"quantitative","scale":{"domain":[-0.093,1.0643],"nice":false,"zero":false},"axis":null},"text":{"field":"label"}}},
{"transform":[{"filter":"datum.kind == 'frame'"}],"mark":{"type":"point","shape":"circle","filled":true,"size":950,"fill":"#ffffff","stroke":"#111111","strokeWidth":1.1,"opacity":1},"encoding":{"x":{"datum":-3.7,"type":"quantitative","scale":{"domain":[-7.16,73.3],"nice":false,"zero":false},"axis":null},"y":{"datum":0.993,"type":"quantitative","scale":{"domain":[-0.093,1.0643],"nice":false,"zero":false},"axis":null}}},
{"transform":[{"filter":"datum.kind == 'frame'"}],"mark":{"type":"text","align":"center","baseline":"middle","dy":1,"font":"Liberation Serif","fontWeight":"bold","fontSize":25,"color":"#111111"},"encoding":{"x":{"datum":-3.7,"type":"quantitative","scale":{"domain":[-7.16,73.3],"nice":false,"zero":false},"axis":null},"y":{"datum":0.993,"type":"quantitative","scale":{"domain":[-0.093,1.0643],"nice":false,"zero":false},"axis":null},"text":{"field":"panel"}}},
{"transform":[{"filter":"datum.kind == 'cap'"}],"mark":{"type":"text","align":"left","baseline":"alphabetic","font":"Liberation Serif","fontWeight":"bold","fontSize":23.5,"color":"#231f20","clip":true},"encoding":{"x":{"datum":-4.14,"type":"quantitative","scale":{"domain":[-7.16,73.3],"nice":false,"zero":false},"axis":null},"y":{"datum":0.7789,"type":"quantitative","scale":{"domain":[-0.093,1.0643],"nice":false,"zero":false},"axis":null},"text":{"field":"bold"}}},
{"transform":[{"filter":"datum.kind == 'cap'"}],"mark":{"type":"text","align":"left","baseline":"alphabetic","font":"Liberation Serif","fontSize":23.5,"color":"#231f20","clip":true},"encoding":{"x":{"datum":10.3,"type":"quantitative","scale":{"domain":[-7.16,73.3],"nice":false,"zero":false},"axis":null},"y":{"datum":0.7789,"type":"quantitative","scale":{"domain":[-0.093,1.0643],"nice":false,"zero":false},"axis":null},"text":{"field":"first"}}},
{"transform":[{"filter":"datum.kind == 'cap'"}],"mark":{"type":"text","align":"left","baseline":"alphabetic","font":"Liberation Serif","fontSize":23.5,"lineHeight":29.3,"color":"#231f20","clip":true},"encoding":{"x":{"datum":-4.14,"type":"quantitative","scale":{"domain":[-7.16,73.3],"nice":false,"zero":false},"axis":null},"y":{"datum":0.6988,"type":"quantitative","scale":{"domain":[-0.093,1.0643],"nice":false,"zero":false},"axis":null},"text":{"field":"rest"}}}
]}
}
